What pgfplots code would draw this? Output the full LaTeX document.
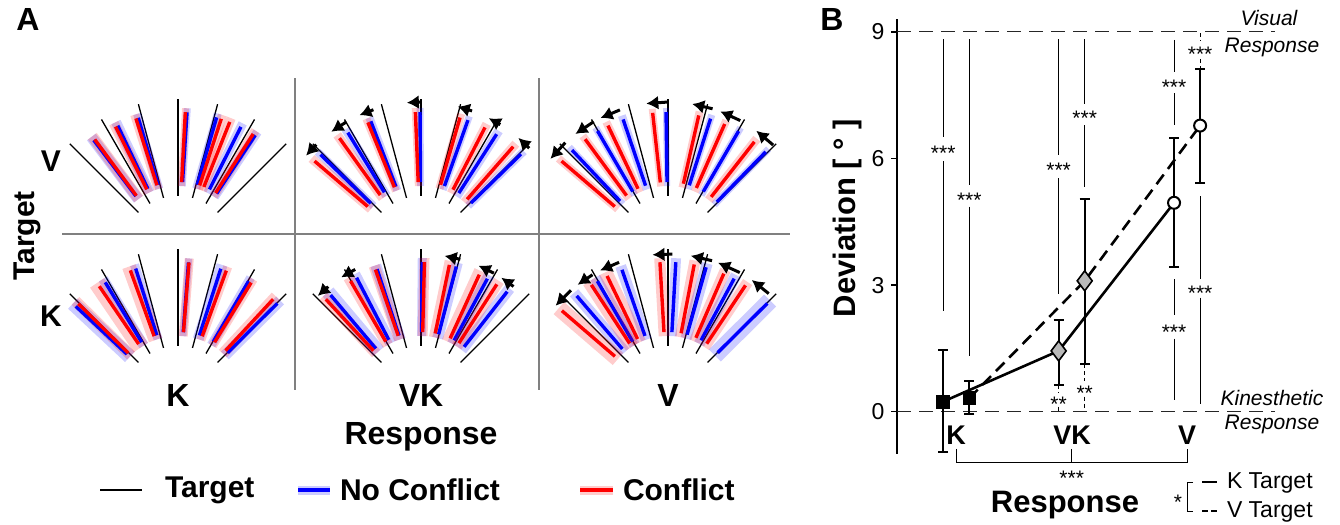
\documentclass[border=0pt]{standalone}
\usepackage{fontspec}
\setmainfont{Liberation Sans}
\usepackage{pgfplots}
\pgfplotsset{compat=1.18}
\usetikzlibrary{arrows.meta}

\newcommand{\fs}[1]{\fontsize{#1}{#1}\selectfont}
\tikzset{lab/.style={inner sep=0pt, outer sep=0pt}}

% polar helpers: angle a measured clockwise from vertical, radius r (pixels)
\newcommand{\tg}[2][0.65pt]{\addplot[black, line width=#1] table[row sep=\\, x expr={\thisrow{r}*sin(\thisrow{a})}, y expr={\thisrow{r}*cos(\thisrow{a})}] {a r\\ #2 56\\ #2 153\\};}
\newcommand{\targets}{\tg{-45}\tg{-30}\tg{-15}\tg[1.3pt]{0}\tg{15}\tg{30}\tg{45}}
\newcommand{\bd}[3]{\addplot[#1, opacity=0.2, line width=#3] table[row sep=\\, x expr={\thisrow{r}*sin(\thisrow{a})}, y expr={\thisrow{r}*cos(\thisrow{a})}] {a r\\ #2 66\\ #2 144\\};}
\newcommand{\cl}[2]{\addplot[#1, line width=1.7pt] table[row sep=\\, x expr={\thisrow{r}*sin(\thisrow{a})}, y expr={\thisrow{r}*cos(\thisrow{a})}] {a r\\ #2 70\\ #2 140\\};}
\newcommand{\grp}[4]{\bd{blue}{#1}{#2}\bd{red}{#3}{#4}\cl{blue}{#1}\cl{red}{#3}}
\newcommand{\ar}[3]{\addplot[black, line width=1.5pt, -{Latex[length=6pt,width=7pt]}] table[row sep=\\, x expr={\thisrow{r}*sin(\thisrow{a})}, y expr={\thisrow{r}*cos(\thisrow{a})}] {a r\\ #1 #3\\ #2 #3\\};}
\newcommand{\vl}[4][solid]{\addplot[black, line width=0.45pt, #1] coordinates {(#2,#3)(#2,#4)};}
\newcommand{\st}[3]{\node[lab, font=\fs{10.5}, yshift=-2.2pt] at (axis cs:#1,#2) {#3};}

\pgfplotsset{cell/.style={anchor=south west, scale only axis, width=120pt, height=85pt,
  xmin=-120, xmax=120, ymin=0, ymax=170, hide axis, clip=false, enlargelimits=false}}

\begin{document}
\begin{tikzpicture}
% ---------------- canvas (pixel coordinates) ----------------
\begin{axis}[scale only axis, width=670pt, height=262.5pt, xmin=0, xmax=1340, ymin=0, ymax=525,
  y dir=reverse, hide axis, clip=false, enlargelimits=false]
\addplot[draw=none] coordinates {(0,0) (1340,525)};
\addplot[gray, line width=1pt] coordinates {(295,78)(295,390)};
\addplot[gray, line width=1pt] coordinates {(538.5,78)(538.5,390)};
\addplot[gray, line width=1pt] coordinates {(62,234)(790,234)};
% legend A
\addplot[black, line width=0.7pt] coordinates {(100,490)(142,490)};
\addplot[blue, opacity=0.2, line width=4.5pt] coordinates {(298,490)(330,490)};
\addplot[blue, line width=1.6pt] coordinates {(298,490)(330,490)};
\addplot[red, opacity=0.2, line width=4.5pt] coordinates {(580,490)(613,490)};
\addplot[red, line width=1.6pt] coordinates {(580,490)(613,490)};
\node[lab, anchor=west, font=\fs{15}\bfseries] at (axis cs:165,490) {Target};
\node[lab, anchor=west, font=\fs{15}\bfseries] at (axis cs:340,490) {No Conflict};
\node[lab, anchor=west, font=\fs{15}\bfseries] at (axis cs:623,490) {Conflict};
% panel A labels
\node[lab, font=\fs{16}\bfseries] at (axis cs:28,19) {A};
\node[lab, font=\fs{16}\bfseries] at (axis cs:832,19) {B};
\node[lab, font=\fs{15}\bfseries] at (axis cs:51,161) {V};
\node[lab, font=\fs{15}\bfseries] at (axis cs:51,316) {K};
\node[lab, font=\fs{15}\bfseries, rotate=90] at (axis cs:27,236) {Target};
\node[lab, font=\fs{16}\bfseries] at (axis cs:178,395) {K};
\node[lab, font=\fs{16}\bfseries] at (axis cs:421,395) {VK};
\node[lab, font=\fs{16}\bfseries] at (axis cs:668,395) {V};
\node[lab, font=\fs{16}\bfseries] at (axis cs:421,437) {Response};
% panel B labels
\node[lab, font=\fs{15.5}\bfseries, rotate=90] at (axis cs:847,218) {Deviation [ ° ]};
\node[lab, font=\fs{13.5}\bfseries] at (axis cs:956,435) {K};
\node[lab, font=\fs{13.5}\bfseries] at (axis cs:1072,435) {VK};
\node[lab, font=\fs{13.5}\bfseries] at (axis cs:1187,435) {V};
\node[lab, anchor=base, font=\fs{15.5}\bfseries] at (axis cs:1065,512) {Response};
\node[lab, font=\fs{10.5}\itshape] at (axis cs:1269,18) {Visual};
\node[lab, font=\fs{10.5}\itshape] at (axis cs:1272,47) {Response};
\node[lab, font=\fs{10.5}\itshape] at (axis cs:1272,398) {Kinesthetic};
\node[lab, font=\fs{10.5}\itshape] at (axis cs:1272,424) {Response};
% legend B
\addplot[black, line width=1.2pt] coordinates {(1202,482)(1217,482)};
\addplot[black, line width=1.2pt, dash pattern=on 2.9pt off 1.7pt] coordinates {(1202,511)(1217,511)};
\addplot[black, line width=0.5pt] coordinates {(1193,482)(1187,482)(1187,511)(1193,511)};
\node[lab, anchor=west, font=\fs{11.5}] at (axis cs:1227,483) {K Target};
\node[lab, anchor=west, font=\fs{11.5}] at (axis cs:1227,512) {V Target};
\node[lab, font=\fs{10.5}] at (axis cs:1178,502) {*};
\end{axis}

% ---------------- panel A cells ----------------
% top-left: V target, K response
\begin{axis}[cell, at={(29pt,136.5pt)}]
\targets
\grp{-37}{5.5pt}{-36.5}{5.5pt}
\grp{-25.5}{5pt}{-26.5}{5pt}
\grp{-16.5}{4pt}{-17.5}{4.5pt}
\grp{3.7}{3.5pt}{3}{3.5pt}
\grp{16}{4pt}{18}{4.5pt}
\grp{26.7}{4.5pt}{21.7}{4.5pt}
\grp{33.5}{4.5pt}{32.5}{4.5pt}
\end{axis}
% top-middle: V target, VK response
\begin{axis}[cell, at={(150.5pt,136.5pt)}]
\targets
\grp{-45.9}{4pt}{-49.5}{4.5pt}
\grp{-31.5}{4.5pt}{-35.6}{4.5pt}
\grp{-21}{4pt}{-22.3}{4pt}
\grp{-0.4}{3.5pt}{-2.3}{3.5pt}
\grp{19.6}{3.5pt}{16.2}{4pt}
\grp{32.7}{4.5pt}{27.2}{4.5pt}
\grp{45.6}{4pt}{41.2}{4.5pt}
\ar{-44.3}{-50}{150}
\ar{-29.8}{-36.7}{150}
\ar{-18.5}{-24.2}{150}
\ar{0.3}{-5.4}{150}
\ar{19.9}{14.2}{150}
\ar{31.9}{26.9}{150}
\ar{46.2}{40.5}{150}
\end{axis}
% top-right: V target, V response
\begin{axis}[cell, at={(274pt,136.5pt)}]
\targets
\grp{-43.3}{3.5pt}{-49.5}{4pt}
\grp{-30.2}{3.5pt}{-36.3}{4pt}
\grp{-18.7}{4pt}{-25.4}{4pt}
\grp{-0.8}{3pt}{-6.3}{3.5pt}
\grp{17.7}{3.5pt}{12.7}{4pt}
\grp{30.3}{3.5pt}{23.9}{4pt}
\grp{44.3}{3.5pt}{38.1}{4.5pt}
\ar{-43.2}{-51.6}{150}
\ar{-29.7}{-38.1}{150}
\ar{-18.7}{-26.7}{150}
\ar{0.1}{-8.3}{150}
\ar{17.3}{9.3}{150}
\ar{28.8}{20.4}{150}
\ar{44.5}{36.1}{150}
\end{axis}
% bottom-left: K target, K response
\begin{axis}[cell, at={(29pt,61.5pt)}]
\targets
\grp{-46.9}{7pt}{-45.4}{5.5pt}
\grp{-31.3}{5pt}{-34.2}{8.5pt}
\grp{-17.6}{4.5pt}{-19.9}{7pt}
\grp{4.3}{3.5pt}{4.5}{4.5pt}
\grp{17.8}{5.5pt}{20.2}{4.5pt}
\grp{30.3}{4.5pt}{31.5}{4.5pt}
\grp{45.2}{5.5pt}{42.8}{5.5pt}
\end{axis}
% bottom-middle: K target, VK response
\begin{axis}[cell, at={(150.5pt,61.5pt)}]
\targets
\grp{-40.2}{7pt}{-42.8}{5.5pt}
\grp{-27.4}{5.5pt}{-30.2}{5.5pt}
\grp{-18.3}{5.5pt}{-19}{5.5pt}
\grp{0.5}{4.5pt}{1.4}{5pt}
\grp{14.6}{5.5pt}{11.7}{5.5pt}
\grp{28.3}{5.5pt}{24.6}{7pt}
\grp{38}{5.5pt}{32.8}{5.5pt}
\ar{-38.8}{-44.2}{148}
\ar{-26.4}{-32.6}{148}
\ar{15.4}{9.2}{148}
\ar{29.5}{22.9}{148}
\ar{38.7}{32.9}{148}
\end{axis}
% bottom-right: K target, V response
\begin{axis}[cell, at={(274pt,61.5pt)}]
\targets
\grp{-40.7}{5.5pt}{-49.3}{8pt}
\grp{-30.3}{5.5pt}{-33.2}{7pt}
\grp{-19.2}{5.5pt}{-25.8}{7pt}
\grp{3.2}{5pt}{-3.3}{5.5pt}
\grp{15.8}{5.5pt}{10.8}{5.5pt}
\grp{28.2}{5.5pt}{23.5}{5.5pt}
\grp{45.2}{8.5pt}{33.6}{5.5pt}
\ar{-41}{-49.4}{148}
\ar{-30.7}{-37.6}{148}
\ar{-19.3}{-27.3}{148}
\ar{1.7}{-6}{148}
\ar{17.3}{8.9}{148}
\ar{29}{19.8}{148}
\ar{42.9}{34.5}{148}
\end{axis}

% ---------------- panel B ----------------
\begin{axis}[at={(448.7pt,35.55pt)}, anchor=south west, scale only axis, width=191pt, height=217.35pt,
  xmin=0.49, xmax=3.8, ymin=-1, ymax=9.3, enlargelimits=false,
  axis y line*=left, axis x line=none, ytick={0,3,6,9}, xtick=\empty,
  tick align=outside, major tick length=3pt,
  y axis line style={line width=1pt}, ytick style={line width=0.8pt, black},
  yticklabel style={font=\fs{11.5}}, clip=false,
  /pgf/number format/assume math mode=true]
\addplot[black!85, line width=0.6pt, dash pattern=on 7pt off 4pt] coordinates {(0.49,9)(3.76,9)};
\addplot[black!85, line width=0.6pt, dash pattern=on 7pt off 4pt] coordinates {(0.49,0)(3.76,0)};
% significance lines
\vl{0.887}{8.83}{6.5}\vl{0.887}{5.93}{2.38}\st{0.887}{6.22}{***}
\vl{1.113}{8.83}{5.38}\vl{1.113}{4.86}{1.32}\st{1.113}{5.12}{***}
\vl{1.887}{8.83}{6.08}\vl{1.887}{5.53}{2.78}\st{1.887}{5.83}{***}
\vl{2.113}{8.83}{7.3}\vl{2.113}{6.79}{5.33}\st{2.113}{7.05}{***}
\vl{2.887}{8.81}{8.06}\vl{2.887}{7.54}{6.79}\st{2.887}{7.8}{***}
\vl[dash pattern=on 2pt off 1.5pt]{3.113}{8.97}{8.8}\vl[dash pattern=on 2pt off 1.5pt]{3.113}{8.35}{8.14}\st{3.113}{8.57}{***}
\vl[dash pattern=on 2pt off 1.5pt]{1.887}{0.63}{0.45}\vl[dash pattern=on 2pt off 1.5pt]{1.887}{0.12}{0}\st{1.887}{0.28}{**}
\vl[dash pattern=on 2pt off 1.5pt]{2.113}{1.13}{0.73}\vl[dash pattern=on 2pt off 1.5pt]{2.113}{0.36}{0.05}\st{2.113}{0.55}{**}
\vl{2.887}{3.14}{2.29}\vl{2.887}{1.73}{0.28}\st{2.887}{1.98}{***}
\vl{3.113}{5.1}{3.14}\vl{3.113}{2.7}{0.18}\st{3.113}{2.92}{***}
% bracket below
\addplot[black, line width=0.5pt] coordinates {(1,-0.88)(1,-1.21)(3,-1.21)(3,-0.88)};
\addplot[black, line width=0.5pt] coordinates {(2,-0.88)(2,-1.21)};
\st{2}{-1.47}{***}
% K target (solid)
\addplot[black, line width=1.3pt, error bars/.cd, y dir=both, y explicit,
  error bar style={line width=1pt, solid}, error mark options={rotate=90, mark size=2.5pt, line width=1pt, solid}]
  table[row sep=\\, x=x, y=y, y error plus=p, y error minus=m]
  {x y p m\\ 0.887 0.24 1.22 1.19\\ 1.887 1.44 0.73 0.81\\ 2.887 4.95 1.53 1.53\\};
% V target (dashed)
\addplot[black, line width=1.3pt, dash pattern=on 6pt off 3.5pt, error bars/.cd, y dir=both, y explicit,
  error bar style={line width=1pt, solid}, error mark options={rotate=90, mark size=2.5pt, line width=1pt, solid}]
  table[row sep=\\, x=x, y=y, y error plus=p, y error minus=m]
  {x y p m\\ 1.113 0.32 0.41 0.38\\ 2.113 3.10 1.93 1.97\\ 3.113 6.78 1.34 1.37\\};
\addplot[only marks, mark=square*, mark size=3.2pt, mark options={draw=black, fill=black}] coordinates {(0.887,0.24)(1.113,0.32)};
\addplot[only marks, mark=diamond*, mark size=5pt, mark options={draw=black, fill=gray!55, line width=0.8pt}] coordinates {(1.887,1.44)(2.113,3.10)};
\addplot[only marks, mark=*, mark size=3pt, mark options={draw=black, fill=white, line width=1pt}] coordinates {(2.887,4.95)(3.113,6.78)};
\end{axis}
\end{tikzpicture}
\end{document}
